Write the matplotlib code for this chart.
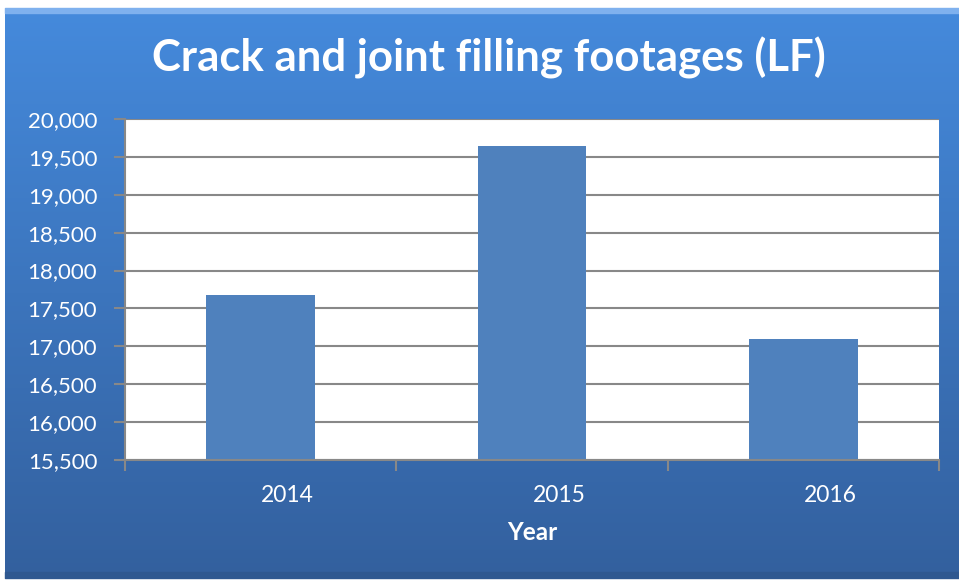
import numpy as np
import matplotlib
matplotlib.use("Agg")
from matplotlib import pyplot as plt
from matplotlib import transforms

years = ['2014', '2015', '2016']
footage = [17680, 19640, 17095]
y_ticks = list(range(15500, 20001, 500))

plt.rcParams['font.family'] = ['Lato', 'DejaVu Sans']

fig = plt.figure(figsize=(9.59, 5.81), dpi=100)
fig.patch.set_facecolor('white')

# blue gradient panel behind everything
bg = fig.add_axes([0, 0, 1, 1], zorder=0)
bg.set_xlim(0, 959)
bg.set_ylim(581, 0)
bg.axis('off')
grad = np.linspace(0, 1, 256).reshape(-1, 1)
top = np.array([0x45, 0x8a, 0xdc]) / 255
bot = np.array([0x33, 0x60, 0x9e]) / 255
img = top + (bot - top) * grad[:, :, None]
bg.imshow(img, extent=[5, 959, 578, 8], aspect='auto')
bg.fill_between([5, 959], 8, 13, color='#7fb1ee')
bg.fill_between([5, 959], 572, 578, color='#2f5890')

ax = fig.add_axes([125 / 959, 1 - 460 / 581, (939 - 125) / 959, (460 - 119) / 581], zorder=1)
x = np.arange(len(years))
ax.bar(x, footage, width=0.4, color='#4f81bd', zorder=2)

ax.set_ylim(15500, 20000)
ax.set_xlim(-0.5, 2.5)
ax.set_yticks(y_ticks)
ax.set_yticklabels([f'{v:,}' for v in y_ticks])
ax.yaxis.grid(True, color='#888888', linewidth=1.5, zorder=1)
ax.set_axisbelow(True)

# category boundary ticks, labels in between
ax.set_xticks([-0.5, 0.5, 1.5, 2.5])
ax.set_xticklabels([])
ax.set_xticks(x, minor=True)
ax.set_xticklabels(years, minor=True)
ax.tick_params(axis='x', which='minor', length=0, pad=18, labelsize=16.5, labelcolor='white')
ax.tick_params(axis='x', which='major', length=8, color='#888888', width=1.5)
ax.tick_params(axis='y', length=8, color='#888888', width=1.5, labelsize=16,
               labelcolor='white', pad=12)
shift = transforms.ScaledTranslation(27 / 100, 0, fig.dpi_scale_trans)
for lbl in ax.get_xticklabels(minor=True):
    lbl.set_transform(lbl.get_transform() + shift)

for side in ['top', 'right']:
    ax.spines[side].set_visible(False)
for side in ['left', 'bottom']:
    ax.spines[side].set_color('#888888')
    ax.spines[side].set_linewidth(1.5)

fig.text(489 / 959, 1 - 58 / 581, 'Crack and joint filling footages (LF)', ha='center', va='center',
         color='white', fontsize=31.5, fontweight='bold')
fig.text(532 / 959, 1 - 533 / 581, 'Year', ha='center', va='center', color='white',
         fontsize=17.5, fontweight='bold')

plt.savefig('out.png', dpi=100)
